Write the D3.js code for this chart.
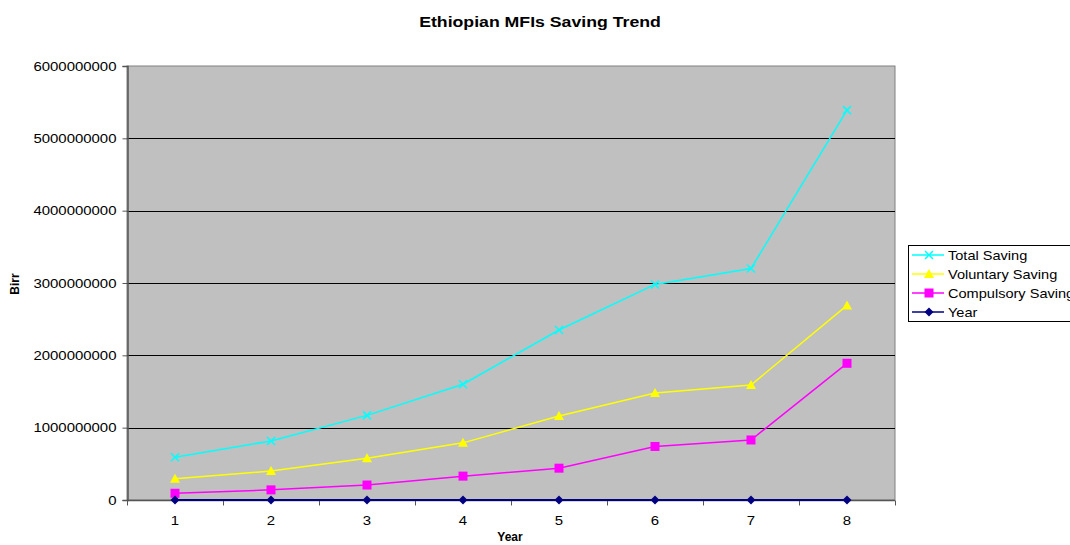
<!DOCTYPE html>
<html>
<head>
<meta charset="utf-8">
<script src="https://cdn.jsdelivr.net/npm/d3@7/dist/d3.min.js"></script>
<style>
  html, body { margin: 0; padding: 0; background: #fff; }
  svg { display: block; font-family: Arial, "Liberation Sans", sans-serif; }
</style>
</head>
<body>
<svg id="chart" width="1070" height="545"></svg>
<script>
// Years 1..8 and the savings series (Birr)
const years = [1, 2, 3, 4, 5, 6, 7, 8];
const totalSaving = [590000000, 816000000, 1170000000, 1600000000, 2350000000, 2980000000, 3200000000, 5390000000];
const voluntarySaving = [295000000, 400000000, 576000000, 790000000, 1160000000, 1480000000, 1590000000, 2690000000];
const compulsorySaving = [93000000, 140000000, 207000000, 330000000, 440000000, 740000000, 830000000, 1890000000];
const yearSeries = [1, 2, 3, 4, 5, 6, 7, 8];
const yTicks = [0, 1000000000, 2000000000, 3000000000, 4000000000, 5000000000, 6000000000];
const seriesNames = ["Total Saving", "Voluntary Saving", "Compulsory Saving", "Year"];

const svg = d3.select("#chart");
const plot = { left: 127, right: 895, top: 66, bottom: 500 };
const stretch = 1.15; // labels are drawn slightly wide

const x = d3.scaleBand().domain(years).range([plot.left, plot.right]);
const y = d3.scaleLinear().domain([0, 6000000000]).range([plot.bottom, plot.top]);

// Plot area
svg.append("rect")
  .attr("x", plot.left).attr("y", plot.top)
  .attr("width", plot.right - plot.left).attr("height", plot.bottom - plot.top)
  .attr("fill", "#c0c0c0").attr("stroke", "#808080").attr("stroke-width", 1);

// Horizontal gridlines
svg.append("g").selectAll("line")
  .data(yTicks.filter(d => d > 0 && d < 6000000000))
  .join("line")
  .attr("x1", plot.left).attr("x2", plot.right)
  .attr("y1", d => Math.round(y(d)) + 0.5).attr("y2", d => Math.round(y(d)) + 0.5)
  .attr("stroke", "#000").attr("stroke-width", 1);

// Y axis
const yAxis = svg.append("g")
  .attr("transform", `translate(${plot.left + 0.5},0)`)
  .call(d3.axisLeft(y).tickValues(yTicks).tickFormat(d3.format("d")).tickSize(5).tickPadding(7));
yAxis.select(".domain").attr("stroke", "#555").attr("stroke-width", 1.5);
yAxis.selectAll(".tick line").attr("stroke", "#555");
yAxis.selectAll("text")
  .attr("x", 0)
  .attr("transform", `translate(-11,0) scale(${stretch},1)`)
  .attr("font-size", 13).attr("fill", "#000")
  .attr("font-family", "Arial, 'Liberation Sans', sans-serif");

// X axis with ticks between categories
const xAxisG = svg.append("g").attr("transform", `translate(0,${plot.bottom + 0.5})`);
xAxisG.append("line")
  .attr("x1", plot.left).attr("x2", plot.right)
  .attr("stroke", "#555").attr("stroke-width", 1.5);
const boundaries = years.map(d => x(d)).concat([x(years[years.length - 1]) + x.bandwidth()]);
xAxisG.selectAll("line.tk").data(boundaries).join("line").attr("class", "tk")
  .attr("x1", d => Math.round(d) + 0.5).attr("x2", d => Math.round(d) + 0.5)
  .attr("y1", 0).attr("y2", 5).attr("stroke", "#555");
xAxisG.selectAll("text").data(years).join("text")
  .attr("transform", d => `translate(${x(d) + x.bandwidth() / 2},24) scale(${stretch},1)`)
  .attr("text-anchor", "middle").attr("font-size", 13).text(d => d);

// Series
const cx = d => x(d) + x.bandwidth() / 2;
const series = [
  { name: seriesNames[0], values: totalSaving, color: "#00ffff", marker: "x" },
  { name: seriesNames[1], values: voluntarySaving, color: "#ffff00", marker: "triangle" },
  { name: seriesNames[2], values: compulsorySaving, color: "#ff00ff", marker: "square" },
  { name: seriesNames[3], values: yearSeries, color: "#000080", marker: "diamond" }
];

function drawMarker(g, type, color) {
  if (type === "x") {
    g.append("path").attr("d", "M-4,-4L4,4M-4,4L4,-4").attr("stroke", color).attr("stroke-width", 1.5).attr("fill", "none");
  } else if (type === "triangle") {
    g.append("path").attr("d", "M0,-5L5,4L-5,4Z").attr("fill", color);
  } else if (type === "square") {
    g.append("rect").attr("x", -4.5).attr("y", -4.5).attr("width", 9).attr("height", 9).attr("fill", color);
  } else {
    g.append("path").attr("d", "M0,-4.5L4.5,0L0,4.5L-4.5,0Z").attr("fill", color);
  }
}

const line = d3.line().x((d, i) => cx(years[i])).y(d => y(d));
series.forEach(s => {
  svg.append("path").datum(s.values)
    .attr("d", line).attr("fill", "none")
    .attr("stroke", s.color).attr("stroke-width", s.marker === "diamond" ? 2 : 1.5);
  s.values.forEach((v, i) => {
    const g = svg.append("g").attr("transform", `translate(${cx(years[i])},${y(v)})`);
    drawMarker(g, s.marker, s.color);
  });
});

// Title and axis titles
svg.append("text").attr("transform", "translate(540,27) scale(1.18,1)").attr("text-anchor", "middle")
  .attr("font-size", 15).attr("font-weight", "bold").text("Ethiopian MFIs Saving Trend");
svg.append("text").attr("x", 510).attr("y", 541).attr("text-anchor", "middle")
  .attr("font-size", 12).attr("font-weight", "bold").text("Year");
svg.append("text").attr("transform", "translate(19,284) rotate(-90)").attr("text-anchor", "middle")
  .attr("font-size", 12).attr("font-weight", "bold").text("Birr");

// Legend (runs past the right edge of the canvas)
const legend = svg.append("g").attr("transform", "translate(908,245)");
legend.append("rect").attr("x", 0.5).attr("y", 0.5).attr("width", 200).attr("height", 76)
  .attr("fill", "#fff").attr("stroke", "#000");
series.forEach((s, i) => {
  const row = legend.append("g").attr("transform", `translate(0,${10 + i * 19})`);
  row.append("line").attr("x1", 4).attr("x2", 36).attr("stroke", s.color).attr("stroke-width", 1.5);
  const m = row.append("g").attr("transform", "translate(21,0)");
  drawMarker(m, s.marker, s.color);
  row.append("text").attr("transform", `translate(40,5) scale(1.12,1)`)
    .attr("font-size", 13).text(s.name);
});
</script>
</body>
</html>
